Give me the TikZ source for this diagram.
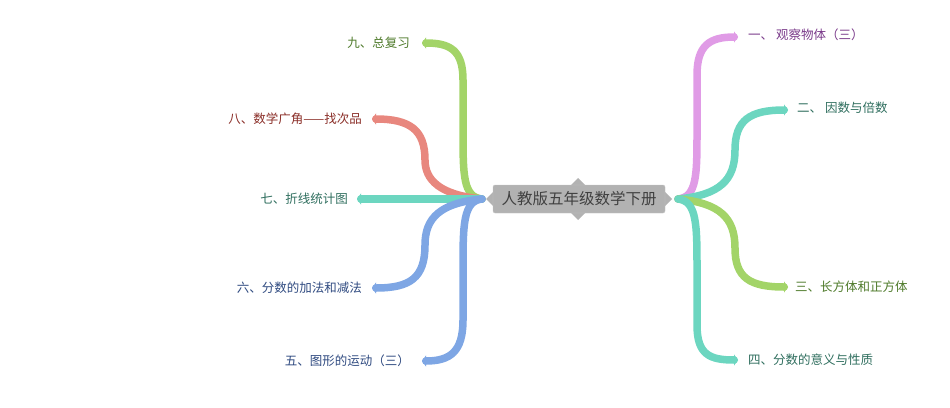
\documentclass[tikz,border=0pt]{standalone}
\usepackage{fontspec}
\setmainfont{Noto Sans CJK SC}
\usetikzlibrary{arrows.meta}
\definecolor{cpur}{HTML}{E09BE6}
\definecolor{cteal}{HTML}{6CD6C0}
\definecolor{cgreen}{HTML}{A3D468}
\definecolor{cred}{HTML}{E8877E}
\definecolor{cblue}{HTML}{7EA6E4}
\definecolor{tpur}{HTML}{7A3A8A}
\definecolor{tteal}{HTML}{2F6E5E}
\definecolor{tgreen}{HTML}{4E7A2A}
\definecolor{tred}{HTML}{8A2E28}
\definecolor{tblue}{HTML}{2F4A80}
\begin{document}
\begin{tikzpicture}[x=1pt,y=-1pt,
  br/.style={line width=7.5pt,line cap=round,-{Triangle[length=4pt,width=11pt]}},
  lab/.style={font=\fontsize{12.5}{14}\selectfont,inner sep=0pt}]
\useasboundingbox (0,0) rectangle (950,407);
\coordinate (cL) at (482,199);
\coordinate (cR) at (678,199);
% right
\draw[br,cpur] (cR) .. controls (697,197) and (697,175) .. (697,130) -- (697,75) .. controls (697,45) and (710,37) .. (738,37) coordinate (e1);
\draw[br,cteal] (cR) .. controls (720,195) and (735,180) .. (735,150) .. controls (735,120) and (750,110) .. (788,110) coordinate (e2);
\draw[br,cgreen] (cR) .. controls (720,203) and (735,218) .. (735,248) .. controls (735,278) and (750,287) .. (788,287) coordinate (e3);
\draw[br,cteal] (cR) .. controls (697,201) and (697,225) .. (697,270) -- (697,325) .. controls (697,355) and (710,360) .. (738,360) coordinate (e4);
% left
\draw[br,cgreen] (cL) .. controls (463,197) and (463,175) .. (463,130) -- (463,80) .. controls (463,50) and (450,43) .. (422,43) coordinate (e9);
\draw[br,cred] (cL) .. controls (440,195) and (425,180) .. (425,160) .. controls (425,130) and (410,119) .. (372,119) coordinate (e8);
\draw[br,cteal] (cL) -- (357,199) coordinate (e7);
\draw[br,cblue] (cL) .. controls (440,203) and (425,218) .. (425,245) .. controls (425,278) and (410,288) .. (372,288) coordinate (e6);
\draw[br,cblue] (cL) .. controls (463,201) and (463,225) .. (463,270) -- (463,320) .. controls (463,352) and (450,361) .. (422,361) coordinate (e5);
% center
\fill[gray!60] (578,178) -- (586,186) -- (570,186) -- cycle;
\fill[gray!60] (578,220) -- (586,212) -- (570,212) -- cycle;
\fill[gray!60] (486,199) -- (494,191) -- (494,207) -- cycle;
\fill[gray!60] (672,199) -- (664,191) -- (664,207) -- cycle;
\node[fill=gray!60,draw=gray!45,rounded corners=2pt,minimum width=172pt,minimum height=28pt,inner sep=0pt,text=black!75,font=\fontsize{15.5}{17}\selectfont] (c) at (579,199) {人教版五年级数学下册};
% labels
\node[lab,anchor=west,text=tpur] (l1) at (748,35) {一、 观察物体（三）};
\node[lab,anchor=west,text=tteal] (l2) at (797,108) {二、 因数与倍数};
\node[lab,anchor=west,text=tgreen] (l3) at (795,287) {三、长方体和正方体};
\node[lab,anchor=west,text=tteal] (l4) at (748,360) {四、分数的意义与性质};
\node[lab,anchor=east,text=tgreen] (l9) at (410,43) {九、总复习};
\node[lab,anchor=east,text=tred] (l8) at (362,119) {八、数学广角——找次品};
\node[lab,anchor=east,text=tteal] (l7) at (348,199) {七、折线统计图};
\node[lab,anchor=east,text=tblue] (l6) at (362,288) {六、分数的加法和减法};
\node[lab,anchor=east,text=tblue] (l5) at (410,361) {五、图形的运动（三）};
\end{tikzpicture}
\end{document}
